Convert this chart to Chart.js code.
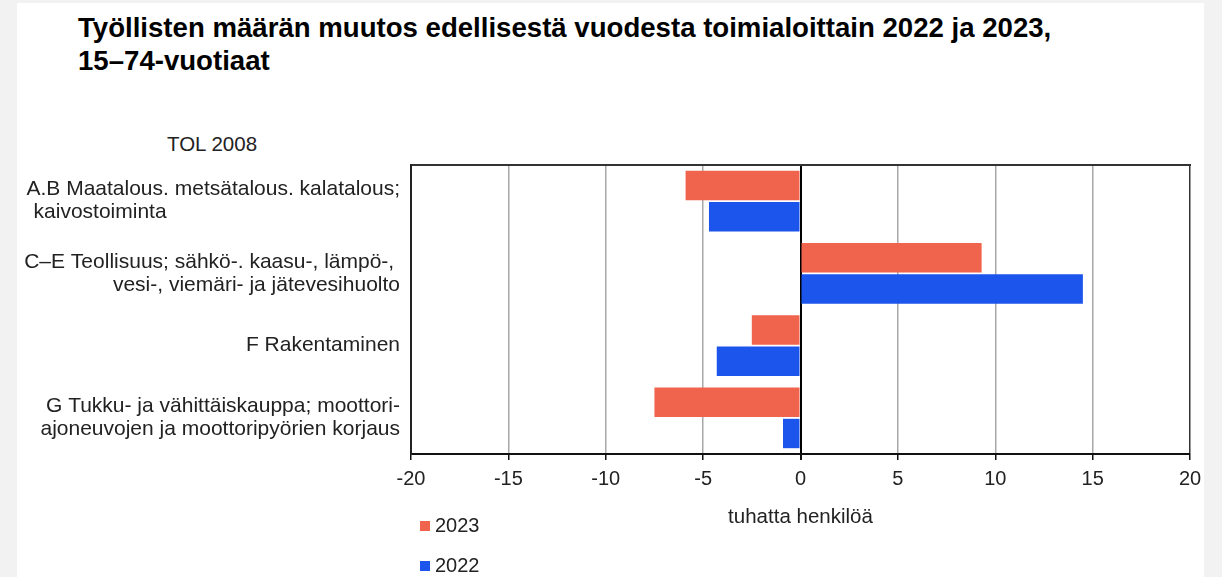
<!DOCTYPE html>
<html>
<head>
<meta charset="utf-8">
<script src="https://cdn.jsdelivr.net/npm/chart.js@4"></script>
<style>
  html, body { margin: 0; padding: 0; }
  body { width: 1222px; height: 577px; background: #f2f2f2; position: relative; overflow: hidden; font-family: "Liberation Sans", Arial, sans-serif; color: #111; }
  #panel { position: absolute; left: 17px; top: 3px; width: 1187px; height: 574px; background: #fff; }
  #chartBox { position: absolute; left: 0; top: 0; width: 1222px; height: 577px; }
  #title { position: absolute; left: 78px; top: 11px; font-size: 27.6px; font-weight: bold; line-height: 33px; color: #000; }
  #tol { position: absolute; left: 167px; top: 132px; font-size: 20.5px; line-height: 24px; color: #222; }
  #legend { position: absolute; left: 420px; top: 513px; font-size: 20px; color: #222; }
  .item { height: 24px; line-height: 24px; margin-bottom: 16px; white-space: nowrap; }
  .box { display: inline-block; width: 10px; height: 10px; margin-right: 5px; vertical-align: 1px; }
</style>
</head>
<body>
<div id="panel"></div>
<div id="title">Työllisten määrän muutos edellisestä vuodesta toimialoittain 2022 ja 2023,<br>15–74-vuotiaat</div>
<div id="tol">TOL 2008</div>
<div id="chartBox"><canvas id="barChart" width="1222" height="577"></canvas></div>
<div id="legend"></div>
<script>
// industries (TOL 2008), wrapped as in the original
const categories = [
  ["A.B Maatalous. metsätalous. kalatalous;", "kaivostoiminta" + " ".repeat(40)],
  ["C–E Teollisuus; sähkö-. kaasu-, lämpö-, ", "vesi-, viemäri- ja jätevesihuolto"],
  "F Rakentaminen",
  ["G Tukku- ja vähittäiskauppa; moottori-", "ajoneuvojen ja moottoripyörien korjaus"],
];

// change from previous year, thousand persons
const values2023 = [-5.9, 9.3, -2.5, -7.5];
const values2022 = [-4.7, 14.5, -4.3, -0.9];

const xTicks = [-20, -15, -10, -5, 0, 5, 10, 15, 20];

const red = "#f0634c";
const blue = "#1c55eb";

Chart.defaults.font.family = '"Liberation Sans", Arial, sans-serif';
Chart.defaults.color = "#222";

const ctx = document.getElementById("barChart").getContext("2d");
const barChart = new Chart(ctx, {
  type: "bar",
  data: {
    labels: categories,
    datasets: [
      {
        label: "2023",
        data: values2023,
        backgroundColor: red,
        borderWidth: 0,
        categoryPercentage: 0.865,
        barPercentage: 0.94,
      },
      {
        label: "2022",
        data: values2022,
        backgroundColor: blue,
        borderWidth: 0,
        categoryPercentage: 0.865,
        barPercentage: 0.94,
      },
    ],
  },
  options: {
    indexAxis: "y",
    responsive: false,
    animation: false,
    layout: {
      padding: { top: 165, right: 32, bottom: 43, left: 0 },
    },
    plugins: {
      legend: { display: false },
      tooltip: { enabled: false },
    },
    scales: {
      x: {
        type: "linear",
        position: "bottom",
        min: -20,
        max: 20,
        afterBuildTicks: (scale) => {
          scale.ticks = xTicks.map((v) => ({ value: v }));
        },
        afterFit: (scale) => {
          scale.height = 80;
        },
        grid: {
          color: (c) => {
            const v = c.tick ? c.tick.value : null;
            if (v === 0) return "#000";
            if (v === -20 || v === 20) return "#333";
            return "#a8a8a8";
          },
          lineWidth: (c) => (c.tick && c.tick.value === 0 ? 2 : 1.5),
          tickColor: "#111",
          tickLength: 6,
        },
        border: { display: true, color: "#111", width: 2 },
        ticks: {
          padding: 7,
          font: { size: 20 },
          color: "#222",
          maxRotation: 0,
        },
        title: {
          display: true,
          text: "tuhatta henkilöä",
          font: { size: 20.5 },
          color: "#222",
          padding: { top: 0, bottom: 4 },
        },
      },
      xTop: {
        type: "linear",
        position: "top",
        min: -20,
        max: 20,
        afterFit: (scale) => {
          scale.height = 0;
        },
        grid: { display: false, drawTicks: false },
        ticks: { display: false },
        border: { display: true, color: "#333", width: 2 },
      },
      y: {
        type: "category",
        afterFit: (scale) => {
          scale.width = 411;
        },
        grid: { display: false, drawTicks: false },
        border: { display: true, color: "#222", width: 2 },
        ticks: {
          padding: 11,
          font: { size: 21, lineHeight: 1.1 },
          color: "#222",
          autoSkip: false,
        },
      },
    },
  },
});

// legend stacked below the plot, as in the original
const legendEl = document.getElementById("legend");
barChart.data.datasets.forEach((ds) => {
  const row = document.createElement("div");
  row.className = "item";
  const box = document.createElement("span");
  box.className = "box";
  box.style.background = ds.backgroundColor;
  row.appendChild(box);
  row.appendChild(document.createTextNode(ds.label));
  legendEl.appendChild(row);
});
</script>
</body>
</html>
